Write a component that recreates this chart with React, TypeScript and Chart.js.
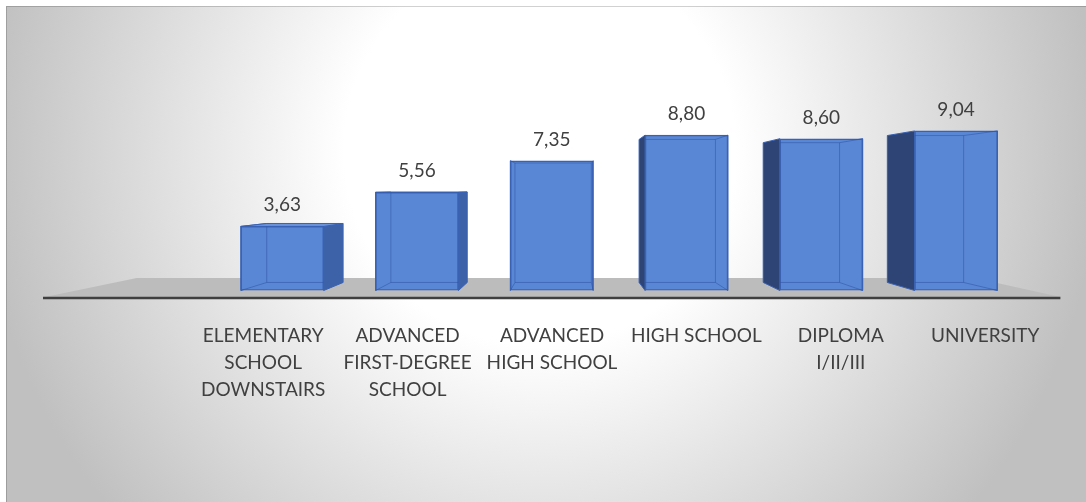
import React, { useEffect, useRef } from 'react';
import { Chart, registerables } from 'chart.js';

Chart.register(...registerables);

// ---- data ----
const categories: string[][] = [
  ['ELEMENTARY', 'SCHOOL', 'DOWNSTAIRS'],
  ['ADVANCED', 'FIRST-DEGREE', 'SCHOOL'],
  ['ADVANCED', 'HIGH SCHOOL'],
  ['HIGH SCHOOL'],
  ['DIPLOMA', 'I/II/III'],
  ['UNIVERSITY'],
];
const values: number[] = [3.63, 5.56, 7.35, 8.8, 8.6, 9.04];
const valueLabels: string[] = ['3,63', '5,56', '7,35', '8,80', '8,60', '9,04'];

// ---- style ----
const FONT = 'Lato, "Open Sans", sans-serif';
const TEXT = '#404040';
const FRONT = '#5a87d5';
const EDGE = '#3a62b4';
const LEFT_SIDE = '#2d4474';
const RIGHT_SIDE = '#3d62a8';
const TOP_FACE = '#6a93dc';
const BAR_DEPTH = 0.079;
const FLOOR_DEPTH = 0.175;

function vanishing(chart: any) {
  const xb = chart.scales.xb;
  const y = chart.scales.y;
  return { vx: xb.getPixelForValue(2.13), vy: y.getPixelForValue(5.75) };
}

function toward(px: number, py: number, vx: number, vy: number, k: number): [number, number] {
  return [px + (vx - px) * k, py + (vy - py) * k];
}

function poly(ctx: CanvasRenderingContext2D, pts: [number, number][]) {
  ctx.beginPath();
  ctx.moveTo(pts[0][0], pts[0][1]);
  for (let i = 1; i < pts.length; i++) ctx.lineTo(pts[i][0], pts[i][1]);
  ctx.closePath();
}

const backgroundPlugin = {
  id: 'bg3d',
  beforeDraw(chart: any) {
    const ctx: CanvasRenderingContext2D = chart.ctx;
    const w = chart.width;
    const h = chart.height;
    ctx.save();
    ctx.fillStyle = '#ffffff';
    ctx.fillRect(0, 0, w, h);
    const g = ctx.createRadialGradient(540, 150, 0, 540, 150, 560);
    g.addColorStop(0, '#ffffff');
    g.addColorStop(0.35, '#ffffff');
    g.addColorStop(1, '#c0c0c0');
    ctx.fillStyle = g;
    ctx.fillRect(6, 6, w - 6, h - 6);
    ctx.strokeStyle = 'rgba(0,0,0,0.18)';
    ctx.lineWidth = 1;
    ctx.beginPath();
    ctx.moveTo(6.5, h);
    ctx.lineTo(6.5, 6.5);
    ctx.lineTo(w, 6.5);
    ctx.stroke();
    ctx.restore();
  },
};

const bars3dPlugin = {
  id: 'bars3d',
  beforeDatasetsDraw(chart: any) {
    const ctx: CanvasRenderingContext2D = chart.ctx;
    const { vx, vy } = vanishing(chart);
    const area = chart.chartArea;
    const y0 = chart.scales.y.getPixelForValue(0);
    // floor
    const fy = y0 + 6.5;
    const fl = area.left - 146;
    const fr = area.right + 3;
    const bl = toward(fl, fy, vx, vy, FLOOR_DEPTH);
    const br = toward(fr, fy, vx, vy, FLOOR_DEPTH);
    ctx.save();
    poly(ctx, [[fl, fy], [fr, fy], br, bl]);
    ctx.fillStyle = '#bcbcbc';
    ctx.fill();
    ctx.strokeStyle = '#3f3f3f';
    ctx.lineWidth = 2.5;
    ctx.beginPath();
    ctx.moveTo(fl - 2, fy + 1);
    ctx.lineTo(fr, fy + 1);
    ctx.stroke();

    const meta = chart.getDatasetMeta(0);
    meta.data.forEach((bar: any) => {
      const p = bar.getProps(['x', 'y', 'base', 'width'], true);
      const l = p.x - p.width / 2;
      const r = p.x + p.width / 2;
      const t = p.y;
      const b = p.base;
      const btl = toward(l, t, vx, vy, BAR_DEPTH);
      const btr = toward(r, t, vx, vy, BAR_DEPTH);
      const bbl = toward(l, b, vx, vy, BAR_DEPTH);
      const bbr = toward(r, b, vx, vy, BAR_DEPTH);
      ctx.lineWidth = 1;
      ctx.strokeStyle = EDGE;
      // back face
      poly(ctx, [btl, btr, bbr, bbl]);
      ctx.fillStyle = '#4f7bc8';
      ctx.fill();
      // left side
      poly(ctx, [[l, t], btl, bbl, [l, b]]);
      ctx.fillStyle = LEFT_SIDE;
      ctx.fill();
      ctx.stroke();
      // right side
      poly(ctx, [[r, t], btr, bbr, [r, b]]);
      ctx.fillStyle = RIGHT_SIDE;
      ctx.fill();
      ctx.stroke();
      // top face when seen from above
      if (btl[1] < t) {
        poly(ctx, [[l, t], [r, t], btr, btl]);
        ctx.fillStyle = TOP_FACE;
        ctx.fill();
        ctx.stroke();
      }
    });
    ctx.restore();
  },
  afterDatasetsDraw(chart: any) {
    const ctx: CanvasRenderingContext2D = chart.ctx;
    const { vx, vy } = vanishing(chart);
    const meta = chart.getDatasetMeta(0);
    ctx.save();
    meta.data.forEach((bar: any, i: number) => {
      const p = bar.getProps(['x', 'y', 'base', 'width'], true);
      const l = p.x - p.width / 2;
      const r = p.x + p.width / 2;
      const t = p.y;
      const b = p.base;
      const btl = toward(l, t, vx, vy, BAR_DEPTH);
      const btr = toward(r, t, vx, vy, BAR_DEPTH);
      const bbl = toward(l, b, vx, vy, BAR_DEPTH);
      const bbr = toward(r, b, vx, vy, BAR_DEPTH);
      ctx.save();
      ctx.beginPath();
      ctx.rect(l, t, r - l, b - t);
      ctx.clip();
      ctx.strokeStyle = 'rgba(45,85,165,0.55)';
      ctx.lineWidth = 1;
      poly(ctx, [btl, btr, bbr, bbl]);
      ctx.stroke();
      ctx.beginPath();
      ctx.moveTo(l, t); ctx.lineTo(btl[0], btl[1]);
      ctx.moveTo(r, t); ctx.lineTo(btr[0], btr[1]);
      ctx.moveTo(l, b); ctx.lineTo(bbl[0], bbl[1]);
      ctx.moveTo(r, b); ctx.lineTo(bbr[0], bbr[1]);
      ctx.stroke();
      ctx.restore();
      // value label
      ctx.fillStyle = TEXT;
      ctx.font = `19px ${FONT}`;
      ctx.textAlign = 'center';
      ctx.textBaseline = 'alphabetic';
      ctx.fillText(valueLabels[i], p.x, t - 15);
    });
    ctx.restore();
  },
};

export default function App() {
  const ref = useRef<HTMLCanvasElement | null>(null);
  useEffect(() => {
    if (!ref.current) return;
    const chart = new Chart(ref.current, {
      type: 'bar',
      data: {
        labels: categories as any,
        datasets: [
          {
            data: values.map((v, i) => ({ x: i, y: v })) as any,
            xAxisID: 'xb',
            yAxisID: 'y',
            backgroundColor: FRONT,
            borderColor: EDGE,
            borderWidth: 1.5,
            borderSkipped: false,
            barThickness: 'flex',
            categoryPercentage: 0.615,
            barPercentage: 1,
          },
        ],
      },
      options: {
        animation: false,
        responsive: false,
        devicePixelRatio: 1,
        layout: { padding: { left: 191, right: 28.6, top: 114, bottom: 81.5 } },
        plugins: {
          legend: { display: false },
          tooltip: { enabled: false },
          title: { display: false },
        },
        scales: {
          x: {
            type: 'category',
            position: 'bottom',
            offset: true,
            grid: { display: false },
            border: { display: false },
            afterFit: (scale: any) => {
              scale.height = 130;
            },
            ticks: {
              autoSkip: false,
              maxRotation: 0,
              minRotation: 0,
              padding: 23.5,
              color: TEXT,
              font: { family: FONT, size: 19, lineHeight: 1.42 },
            },
          },
          xb: {
            type: 'linear',
            display: false,
            offset: false,
            min: -0.677,
            max: 5.752,
          },
          y: {
            type: 'linear',
            display: false,
            min: 0,
            max: 10,
          },
        },
      } as any,
      plugins: [backgroundPlugin, bars3dPlugin],
    });
    return () => chart.destroy();
  }, []);
  return (
    <div style={{ position: 'absolute', left: 0, top: 0, width: 1086, height: 502 }}>
      <canvas ref={ref} width={1086} height={502} style={{ display: 'block' }} />
    </div>
  );
}
